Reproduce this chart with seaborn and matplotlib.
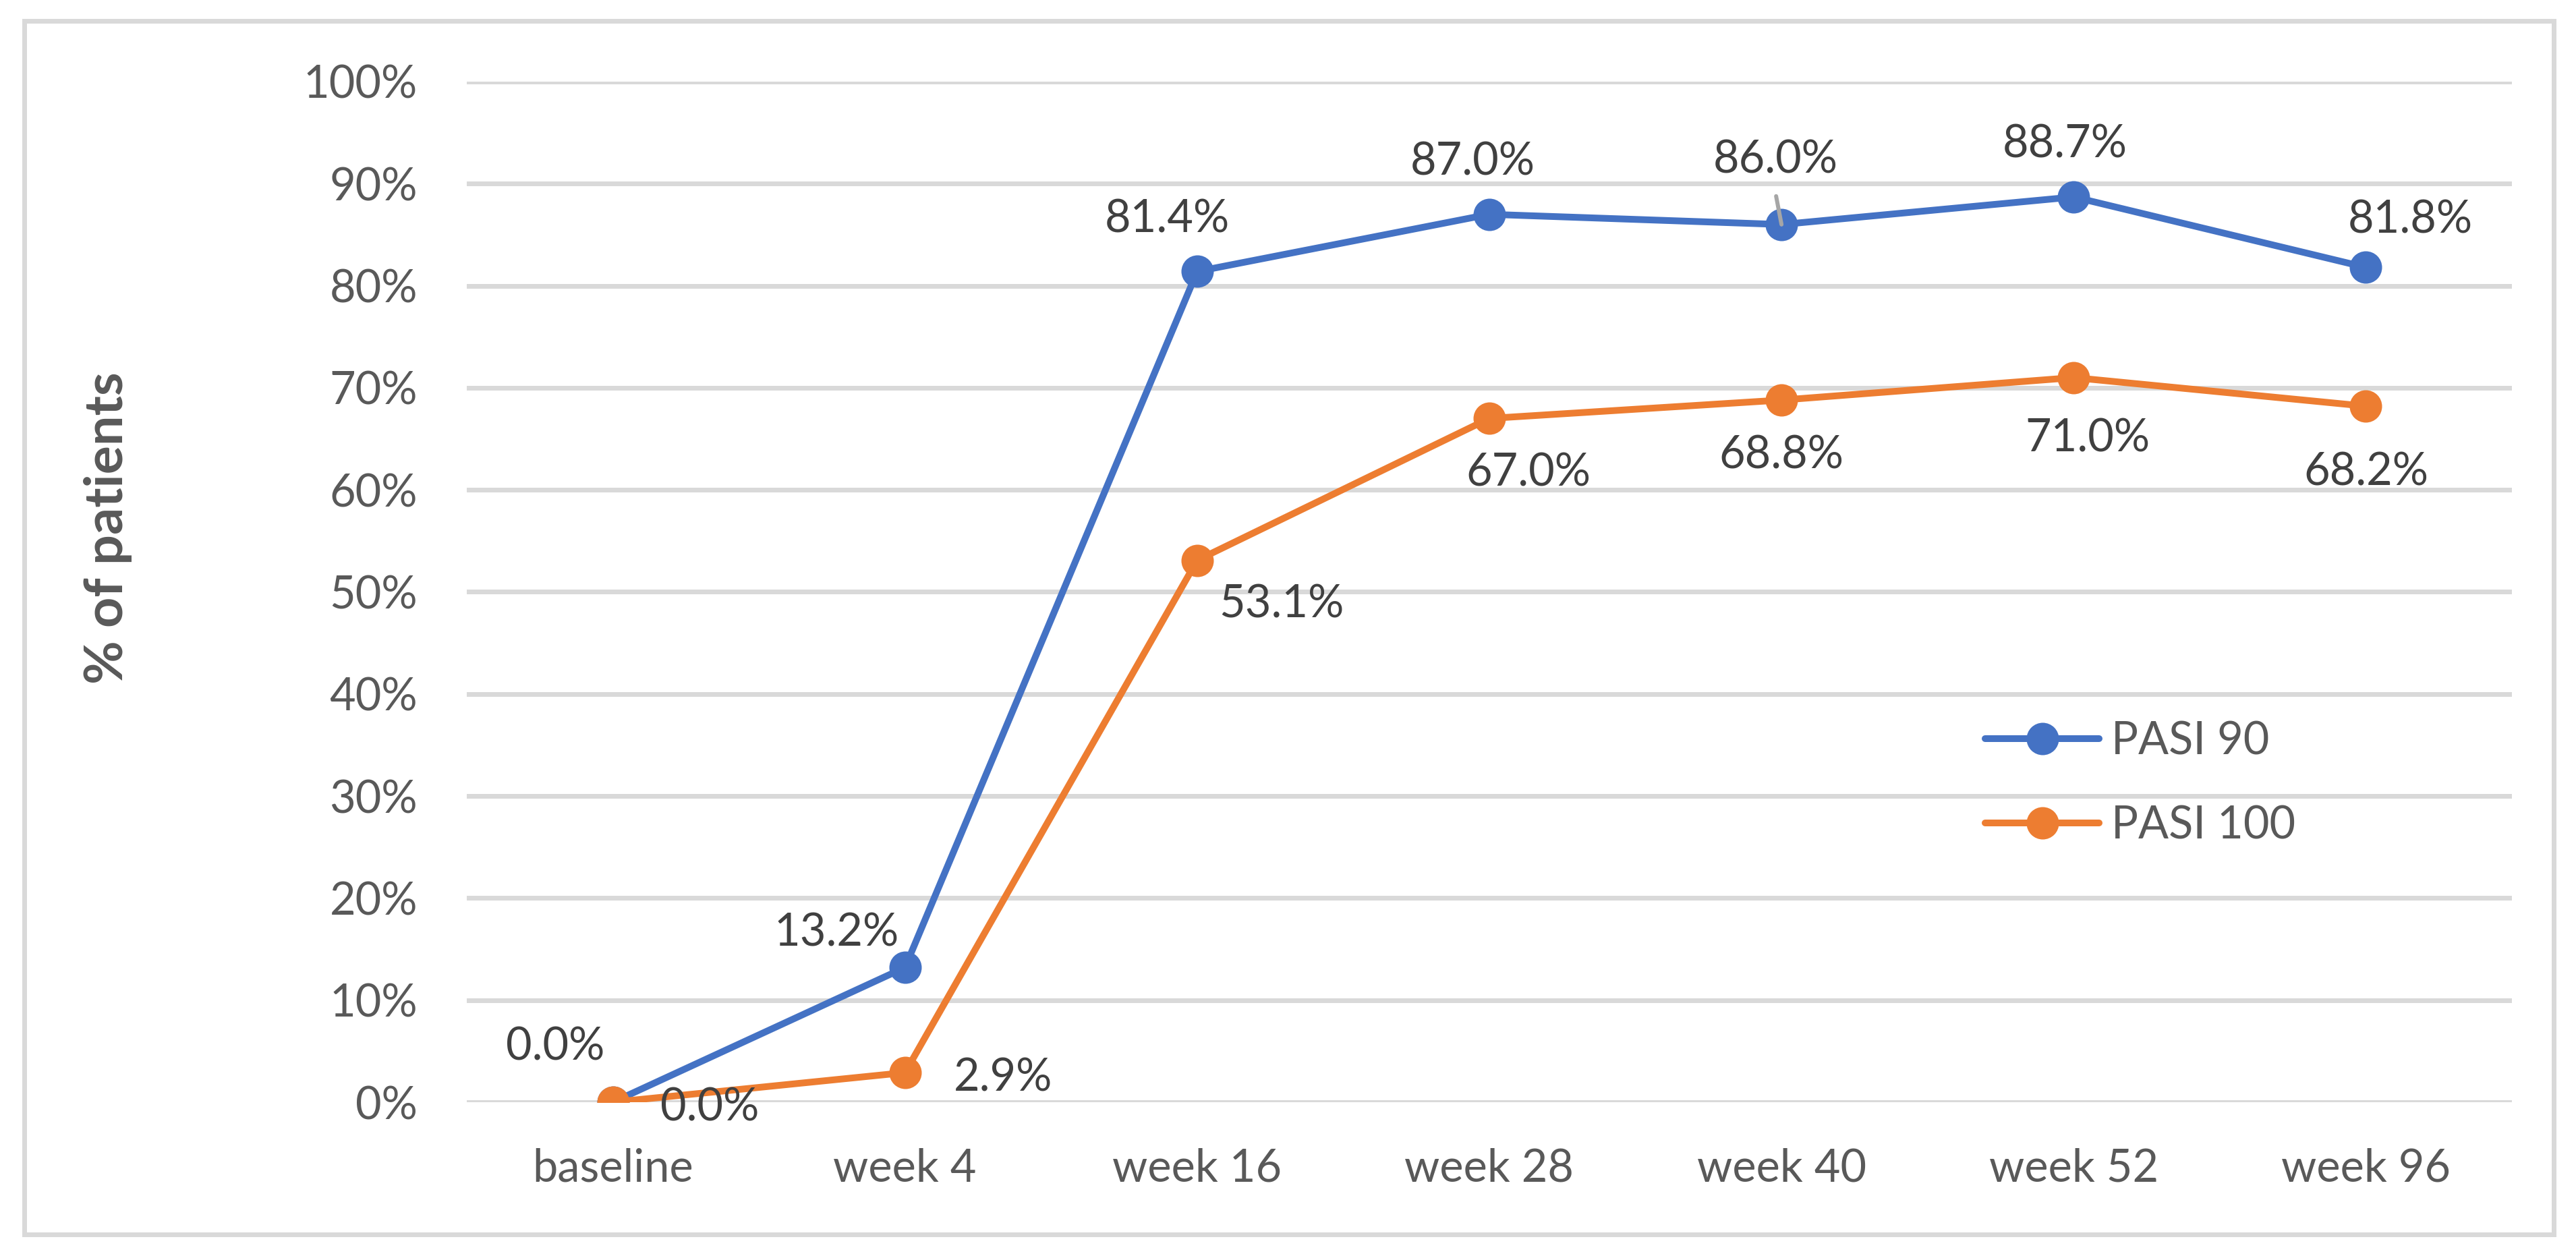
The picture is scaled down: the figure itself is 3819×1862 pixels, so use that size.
import matplotlib
matplotlib.use("Agg")
import matplotlib.pyplot as plt
from matplotlib.patches import Rectangle
from matplotlib.ticker import PercentFormatter, MultipleLocator
import seaborn as sns
import pandas as pd

# ---- data ----
visits = ["baseline", "week 4", "week 16", "week 28", "week 40", "week 52", "week 96"]
pasi90 = [0.000, 0.132, 0.814, 0.870, 0.860, 0.887, 0.818]
pasi100 = [0.000, 0.029, 0.531, 0.670, 0.688, 0.710, 0.682]
series_names = ["PASI 90", "PASI 100"]
colors = ["#4472C4", "#ED7D31"]

# label offsets (pixels, x right / y up, to text baseline centre)
off90 = [(-85, 63), (-102, 32), (-44, 58), (-25, 58), (-9, 76), (-13, 58), (66, 51)]
off100 = [(144, -28), (145, -27), (125, -85), (58, -100), (0, -101), (21, -110), (0, -117)]

sns.set_style("white")
plt.rcParams["font.family"] = ["Lato", "DejaVu Sans"]

W, H, DPI = 3819, 1862, 300
fig = plt.figure(figsize=(W / DPI, H / DPI), dpi=DPI)
px = 72.0 / DPI  # points per pixel

ax = fig.add_axes([692 / W, 1 - 1634 / H, (3724 - 692) / W, (1634 - 121) / H])

df = pd.DataFrame({
    "visit": visits * 2,
    "value": pasi90 + pasi100,
    "series": [series_names[0]] * len(visits) + [series_names[1]] * len(visits),
})

sns.lineplot(data=df, x="visit", y="value", hue="series", palette=colors,
             marker="o", markersize=48 * px, markeredgewidth=0,
             linewidth=10 * px, sort=False, ax=ax, legend=False, zorder=3)

ax.set_xlim(-0.5, len(visits) - 0.5)
ax.set_ylim(0, 1.0)
ax.yaxis.set_major_locator(MultipleLocator(0.1))
ax.yaxis.set_major_formatter(PercentFormatter(1.0, decimals=0))
ax.grid(axis="y", color="#D9D9D9", linewidth=7 * px, zorder=0)
ax.grid(axis="x", visible=False)
for s in ax.spines.values():
    s.set_visible(False)
ax.tick_params(axis="both", length=0, labelsize=16, labelcolor="#595959")
ax.tick_params(axis="y", pad=73 * px)
ax.tick_params(axis="x", pad=68 * px)
ax.set_xlabel("")
ax.set_ylabel("")
ax.set_axisbelow(True)

# data labels
for vals, offs in ((pasi90, off90), (pasi100, off100)):
    for i, (v, (dx, dy)) in enumerate(zip(vals, offs)):
        ax.annotate(f"{v * 100:.1f}%", xy=(i, v), xytext=(dx * px, dy * px),
                    textcoords="offset points", ha="center", va="baseline",
                    fontsize=16, color="#404040", zorder=5)

# leader line for week 40 label
i40 = visits.index("week 40")
ax.annotate("", xy=(i40, pasi90[i40]), xytext=(-8 * px, 42 * px),
            textcoords="offset points",
            arrowprops=dict(arrowstyle="-", color="#A6A6A6", lw=6 * px,
                            shrinkA=0, shrinkB=0), zorder=6)

# y label
fig.text(160 / W, 1 - 783 / H, "% of patients", rotation=90, ha="center", va="center",
         fontsize=19, fontweight="bold", color="#595959")

# legend
handles = ax.get_lines()[:2]
leg = fig.legend(handles, series_names, loc="center left",
                 bbox_to_anchor=(2943 / W, 1 - 1162 / H), bbox_transform=fig.transFigure,
                 frameon=False, fontsize=16, labelcolor="#595959",
                 handlelength=2.54, handletextpad=0.27, borderpad=0, borderaxespad=0,
                 labelspacing=0.95)

# outer border
fig.patches.append(Rectangle((36 / W, 1 - 1829.5 / H), (3786 - 36) / W, (1829.5 - 31) / H,
                             transform=fig.transFigure, fill=False,
                             edgecolor="#D9D9D9", linewidth=7 * px))

fig.savefig("out.png", dpi=DPI, facecolor="white")
